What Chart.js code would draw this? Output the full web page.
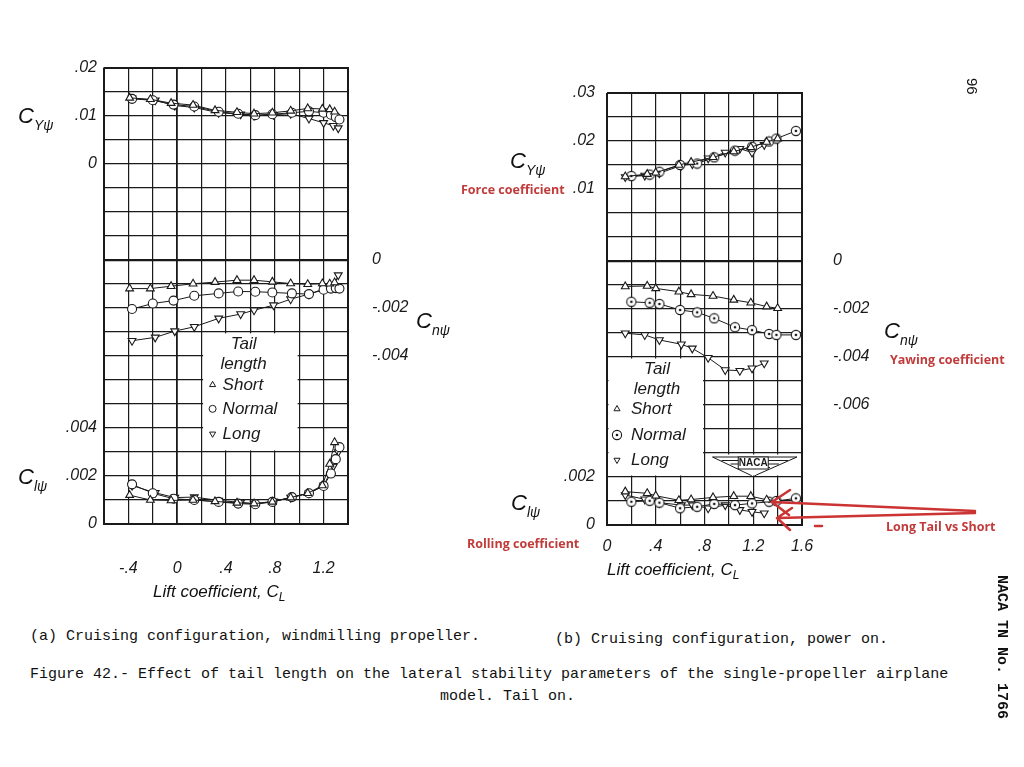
<!DOCTYPE html>
<html>
<head>
<meta charset="utf-8">
<script src="https://cdn.jsdelivr.net/npm/chart.js@4.4.1/dist/chart.umd.min.js"></script>
<style>
  html, body { margin: 0; padding: 0; background: #fff; }
  #page { position: relative; width: 1024px; height: 767px; overflow: hidden; color: #111; font-family: "Liberation Sans", sans-serif; }
  .box { position: absolute; }
  .lab { position: absolute; font-style: italic; font-size: 22px; line-height: 1; white-space: nowrap; }
  .lab sub { font-size: 14px; vertical-align: -7px; }
  .xt { position: absolute; font-style: italic; font-size: 17px; line-height: 1; white-space: nowrap; }
  .xt sub { font-size: 12px; vertical-align: -4px; }
  .red { position: absolute; color: #c23b3b; font-weight: bold; font-size: 12.5px; font-family: "Open Sans", sans-serif; white-space: nowrap; line-height: 1; }
  .cap { position: absolute; font-family: "Liberation Mono", monospace; font-size: 15px; line-height: 1; white-space: nowrap; }
  .rot { position: absolute; transform-origin: 0 0; transform: rotate(90deg); font-family: "Liberation Mono", monospace; font-weight: bold; font-size: 15px; line-height: 1; white-space: nowrap; }
  svg { position: absolute; left: 0; top: 0; pointer-events: none; }
</style>
</head>
<body>
<div id="page">
  <div class="box" style="left:0;top:34px;width:470px;height:566px"><canvas id="chartA" width="470" height="566"></canvas></div>
  <div class="box" style="left:470px;top:40px;width:554px;height:560px"><canvas id="chartB" width="554" height="560"></canvas></div>

  <div class="lab" style="left:18px;top:105px">C<sub>Yψ</sub></div>
  <div class="lab" style="left:416px;top:310px">C<sub>nψ</sub></div>
  <div class="lab" style="left:18px;top:466px">C<sub>lψ</sub></div>
  <div class="xt" style="left:153px;top:583px">Lift coefficient, C<sub>L</sub></div>

  <div class="lab" style="left:510px;top:150px">C<sub>Yψ</sub></div>
  <div class="lab" style="left:884px;top:320px">C<sub>nψ</sub></div>
  <div class="lab" style="left:511px;top:492px">C<sub>lψ</sub></div>
  <div class="xt" style="left:607px;top:561px">Lift coefficient, C<sub>L</sub></div>

  <div class="red" style="left:461px;top:184px">Force coefficient</div>
  <div class="red" style="left:890px;top:354px">Yawing coefficient</div>
  <div class="red" style="left:467px;top:538px">Rolling coefficient</div>
  <div class="red" style="left:886px;top:521px">Long Tail vs Short</div>

  <div class="cap" style="left:30px;top:629px">(a) Cruising configuration, windmilling propeller.</div>
  <div class="cap" style="left:555px;top:632px">(b) Cruising configuration, power on.</div>
  <div class="cap" style="left:30px;top:667px">Figure 42.- Effect of tail length on the lateral stability parameters of the single-propeller airplane</div>
  <div class="cap" style="left:440px;top:689px">model.  Tail on.</div>

  <div class="rot" style="left:980px;top:78px;font-weight:normal;font-family:'Liberation Sans'">96</div>
  <div class="rot" style="left:1009px;top:575px">NACA TN No. 1766</div>

  <svg width="1024" height="767">
    <g stroke="#cc3333" stroke-width="2.5" fill="none" stroke-linecap="round" stroke-linejoin="round">
      <path d="M975 511 L772 502 M790 490 L772 502 L789 515"/>
      <path d="M975 513 L778 518 M792 508 L777 518 L790 530"/>
      <path d="M815 526 L822 526"/>
    </g>
  </svg>
</div>

<script>
// tick labels
const aXLabels = [-0.4, 0, 0.4, 0.8, 1.2];
const bXLabels = [0, 0.4, 0.8, 1.2, 1.6];
const aCyTicks = [0.02, 0.01, 0];
const aCnTicks = [0, -0.002, -0.004];
const aClTicks = [0.004, 0.002, 0];
const bCyTicks = [0.03, 0.02, 0.01];
const bCnTicks = [0, -0.002, -0.004, -0.006];
const bClTicks = [0.002, 0];
const tailNames = ["Short", "Normal", "Long"];

// (a) windmilling propeller
const aShortCL = [-0.39, -0.22, -0.05, 0.13, 0.31, 0.49, 0.63, 0.78, 0.93, 1.07, 1.19, 1.25, 1.29];
const aShortCy = [0.0137, 0.0134, 0.0126, 0.0122, 0.0111, 0.0107, 0.0104, 0.0106, 0.011, 0.0115, 0.0114, 0.0113, 0.0108];
const aShortCn = [-0.0012, -0.0012, -0.0011, -0.001, -0.00093, -0.00085, -0.00085, -0.00092, -0.00099, -0.00102, -0.00099, -0.001, -0.00095];
const aShortCl = [0.0012, 0.001, 0.00098, 0.001, 0.00094, 0.00088, 0.00085, 0.00092, 0.0011, 0.00128, 0.0016, 0.0025, 0.0034];

const aNormalCL = [-0.37, -0.2, -0.03, 0.14, 0.34, 0.5, 0.64, 0.78, 0.94, 1.08, 1.2, 1.26, 1.3, 1.33];
const aNormalCy = [0.0135, 0.0132, 0.0123, 0.0119, 0.0108, 0.0104, 0.0101, 0.0103, 0.0106, 0.0109, 0.0106, 0.0102, 0.0097, 0.0092];
const aNormalCn = [-0.00205, -0.00182, -0.0017, -0.0015, -0.0014, -0.00132, -0.00133, -0.00136, -0.0014, -0.00143, -0.00125, -0.0012, -0.00118, -0.0012];
const aNormalCl = [0.00165, 0.00128, 0.00105, 0.001, 0.00092, 0.00085, 0.00082, 0.00092, 0.00112, 0.00128, 0.00158, 0.0021, 0.0027, 0.0032];

const aLongCL = [-0.37, -0.18, -0.02, 0.14, 0.34, 0.52, 0.63, 0.79, 0.93, 1.08, 1.2, 1.28, 1.32];
const aLongCy = [0.0136, 0.0132, 0.0121, 0.0117, 0.0106, 0.0103, 0.01, 0.0102, 0.0104, 0.0094, 0.0085, 0.0079, 0.0074];
const aLongCn = [-0.00337, -0.00323, -0.00297, -0.00279, -0.00244, -0.00226, -0.0021, -0.00189, -0.00164, -0.00143, -0.00122, -0.00115, -0.00064];
const aLongCl = [0.0016, 0.0013, 0.0011, 0.00112, 0.00098, 0.0009, 0.00085, 0.00094, 0.0011, 0.00128, 0.0016, 0.0024, 0.003];

// (b) power on
const bShortCL = [0.15, 0.33, 0.4, 0.59, 0.69, 0.87, 1.04, 1.18, 1.31, 1.4];
const bShortCy = [0.0126, 0.0131, 0.0134, 0.015, 0.0156, 0.0166, 0.0178, 0.0187, 0.0198, 0.0205];
const bShortCn = [-0.00106, -0.00104, -0.00114, -0.00128, -0.00139, -0.00146, -0.00162, -0.00174, -0.0019, -0.00197];
const bShortCl = [0.00139, 0.00132, 0.00122, 0.00103, 0.00106, 0.00115, 0.0012, 0.0012, 0.00105, 0.00102];

const bNormalCL = [0.2, 0.35, 0.43, 0.6, 0.74, 0.88, 1.05, 1.19, 1.33, 1.39, 1.55];
const bNormalCy = [0.0127, 0.013, 0.0136, 0.015, 0.0153, 0.0166, 0.018, 0.0188, 0.0199, 0.0205, 0.0221];
const bNormalCn = [-0.0017, -0.00174, -0.00179, -0.00204, -0.00214, -0.00239, -0.00276, -0.00288, -0.00304, -0.00308, -0.00308];
const bNormalCl = [0.00097, 0.00101, 0.00093, 0.0007, 0.00076, 0.00088, 0.00083, 0.0009, 0.00097, 0.001, 0.00111];

const bLongCL = [0.15, 0.31, 0.43, 0.61, 0.7, 0.83, 0.97, 1.09, 1.19, 1.29];
const bLongCy = [0.0125, 0.0128, 0.0133, 0.0149, 0.0152, 0.0164, 0.0176, 0.0184, 0.0176, 0.0192];
const bLongCn = [-0.00301, -0.00308, -0.00329, -0.00347, -0.00364, -0.00403, -0.00454, -0.00457, -0.00447, -0.00426];
const bLongCl = [0.00125, 0.00107, 0.00093, 0.00083, 0.00083, 0.0007, 0.00083, 0.00063, 0.00055, 0.00049];

const INK = "#1a1a1a";
const tickFont = { family: "Liberation Sans", style: "italic", size: 16 };

function fmt(v) {
    if (Math.abs(v) < 1e-9) return "0";
    const s = String(+Math.abs(v).toFixed(4)).replace(/^0/, "");
    return (v < 0 ? "-" : "") + s;
}

function pick(v, list) {
    return list.some((t) => Math.abs(t - v) < 1e-7) ? fmt(v) : "";
}

function gridTicks(min, max, step) {
    const n = Math.round((max - min) / step);
    return Array.from({ length: n + 1 }, (_, i) => ({ value: +(min + i * step).toFixed(6) }));
}

function dotCircle() {
    const c = document.createElement("canvas");
    c.width = c.height = 12;
    const g = c.getContext("2d");
    g.fillStyle = "#fff";
    g.strokeStyle = INK;
    g.lineWidth = 1.1;
    g.beginPath();
    g.arc(6, 6, 4.6, 0, Math.PI * 2);
    g.fill();
    g.stroke();
    g.fillStyle = INK;
    g.beginPath();
    g.arc(6, 6, 1.3, 0, Math.PI * 2);
    g.fill();
    return c;
}

const up = { shape: "triangle", rot: 0 };
const ring = { shape: "circle", rot: 0 };
const down = { shape: "triangle", rot: 180 };
const dotRing = { shape: dotCircle(), rot: 0 };

function series(cl, vals, axis, st) {
    return {
        data: cl.map((c, i) => ({ x: c, y: vals[i] })),
        yAxisID: axis,
        showLine: true,
        borderColor: INK,
        borderWidth: 1,
        pointStyle: st.shape,
        pointRotation: st.rot,
        pointRadius: 4.5,
        pointBackgroundColor: "#fff",
        pointBorderColor: INK,
        pointBorderWidth: 1.1,
        clip: false,
    };
}

// white legend box + NACA badge, drawn over the grid but under the data
const paperPlugin = {
    id: "paper",
    beforeDatasetsDraw(chart, args, o) {
        const { ctx } = chart;
        const x = chart.scales.x;
        const cn = chart.scales.cn;
        const rect = (b) => ({
            l: x.getPixelForValue(b[0]),
            r: x.getPixelForValue(b[1]),
            t: cn.getPixelForValue(b[2]),
            b: cn.getPixelForValue(b[3]),
        });
        ctx.save();
        const L = rect(o.box);
        ctx.fillStyle = "#fff";
        ctx.fillRect(L.l + 1.5, L.t + 1.5, L.r - L.l - 3, L.b - L.t - 3);
        ctx.fillStyle = INK;
        ctx.font = 'italic 17px "Liberation Sans"';
        ctx.textAlign = "center";
        ctx.textBaseline = "middle";
        ctx.fillText("Tail", L.l + o.titleX, L.t + 12);
        ctx.fillText("length", L.l + o.titleX, L.t + 32);
        ctx.textAlign = "left";
        o.styles.forEach((st, i) => {
            const y = L.t + o.rowY[i];
            ctx.strokeStyle = INK;
            ctx.fillStyle = "#fff";
            ctx.lineWidth = 1;
            Chart.helpers.drawPoint(ctx, { pointStyle: st.shape, rotation: st.rot, radius: 3.5, borderWidth: 1 }, L.l + o.markX, y);
            ctx.fillStyle = INK;
            ctx.fillText(tailNames[i], L.l + o.textX, y);
        });
        if (o.naca) {
            const N = rect(o.naca);
            ctx.fillStyle = "#fff";
            ctx.fillRect(N.l + 1.5, N.t + 1.5, N.r - N.l - 3, N.b - N.t - 3);
            const cx = (N.l + N.r) / 2;
            ctx.strokeStyle = INK;
            ctx.lineWidth = 1;
            ctx.beginPath();
            ctx.moveTo(N.l + 8, N.t + 4);
            ctx.lineTo(N.r - 5, N.t + 4);
            ctx.lineTo(cx + 3, N.b - 2);
            ctx.lineTo(cx, N.b);
            ctx.lineTo(cx - 3, N.b - 2);
            ctx.closePath();
            ctx.stroke();
            ctx.beginPath();
            for (let k = 1; k <= 3; k++) {
                ctx.moveTo(N.l + 8 + k * 9, N.t + 4 + k * 3.5);
                ctx.lineTo(cx - 14, N.t + 4 + k * 3.5);
                ctx.moveTo(N.r - 5 - k * 9, N.t + 4 + k * 3.5);
                ctx.lineTo(cx + 14, N.t + 4 + k * 3.5);
            }
            ctx.stroke();
            ctx.fillStyle = "#fff";
            ctx.fillRect(cx - 15, N.t + 4, 30, 12);
            ctx.strokeRect(cx - 15, N.t + 4, 30, 12);
            ctx.fillStyle = INK;
            ctx.font = 'bold 10px "Liberation Sans"';
            ctx.textAlign = "center";
            ctx.fillText("NACA", cx, N.t + 10.5);
        }
        ctx.restore();
    },
};

function buildChart(id, c) {
    const edge = (v, min, max) => Math.abs(v - min) < 1e-9 || Math.abs(v - max) < 1e-9;
    return new Chart(document.getElementById(id), {
        type: "scatter",
        data: { datasets: c.datasets },
        options: {
            responsive: false,
            animation: false,
            layout: { padding: { top: c.padTop, left: 0, right: 0, bottom: 0 } },
            plugins: {
                legend: { display: false },
                tooltip: { enabled: false },
                paper: c.paper,
            },
            scales: {
                x: {
                    type: "linear",
                    position: "bottom",
                    min: c.xMin,
                    max: c.xMax,
                    afterBuildTicks: (s) => { s.ticks = gridTicks(c.xMin, c.xMax, 0.2); },
                    afterFit: (s) => { s.height = c.xH; },
                    ticks: { autoSkip: false, maxRotation: 0, padding: c.xPad, font: tickFont, color: INK, callback: (v) => pick(v, c.xLabels) },
                    grid: {
                        color: INK,
                        drawTicks: false,
                        lineWidth: (g) => (g.tick && edge(g.tick.value, c.xMin, c.xMax) ? 2 : g.tick && Math.abs(g.tick.value) < 1e-9 ? 1.8 : 1.2),
                    },
                    border: { color: INK, width: 2 },
                },
                // rolling coefficient: lower block of the left stack
                cl: {
                    type: "linear",
                    position: "left",
                    stack: "left",
                    stackWeight: c.clRows,
                    min: 0,
                    max: c.clMax,
                    afterBuildTicks: (s) => { s.ticks = c.clTicks.map((v) => ({ value: v })); },
                    afterFit: (s) => { s.width = c.leftW; },
                    ticks: { autoSkip: false, padding: c.yPad, font: tickFont, color: INK, callback: (v) => fmt(v) },
                    grid: { display: false, drawTicks: false },
                    border: { display: false },
                },
                // side force coefficient: upper block of the left stack
                cy: {
                    type: "linear",
                    position: "left",
                    stack: "left",
                    stackWeight: c.cyRows,
                    min: c.cyMin,
                    max: c.cyMax,
                    afterBuildTicks: (s) => { s.ticks = c.cyTicks.map((v) => ({ value: v })); },
                    afterFit: (s) => { s.width = c.leftW; },
                    ticks: { autoSkip: false, padding: c.yPad, font: tickFont, color: INK, callback: (v) => fmt(v) },
                    grid: { display: false, drawTicks: false },
                    border: { display: false },
                },
                cn: {
                    type: "linear",
                    position: "right",
                    min: c.cnMin,
                    max: c.cnMax,
                    afterBuildTicks: (s) => { s.ticks = gridTicks(c.cnMin, c.cnMax, 0.001); },
                    afterFit: (s) => { s.width = c.rightW; },
                    ticks: { autoSkip: false, padding: c.cnPad, font: tickFont, color: INK, callback: (v) => pick(v, c.cnTicks) },
                    grid: {
                        color: INK,
                        drawTicks: false,
                        lineWidth: (g) => (g.tick && edge(g.tick.value, c.cnMin, c.cnMax) ? 2 : g.tick && Math.abs(g.tick.value) < 1e-9 ? 2.2 : 1.2),
                    },
                    border: { color: INK, width: 2 },
                },
            },
        },
        plugins: [paperPlugin],
    });
}

buildChart("chartA", {
    datasets: [
        series(aShortCL, aShortCy, "cy", up),
        series(aNormalCL, aNormalCy, "cy", ring),
        series(aLongCL, aLongCy, "cy", down),
        series(aShortCL, aShortCn, "cn", up),
        series(aNormalCL, aNormalCn, "cn", ring),
        series(aLongCL, aLongCn, "cn", down),
        series(aShortCL, aShortCl, "cl", up),
        series(aNormalCL, aNormalCl, "cl", ring),
        series(aLongCL, aLongCl, "cl", down),
    ],
    padTop: 33, xH: 76, xPad: 35, leftW: 104, rightW: 122, yPad: 7, cnPad: 24,
    xMin: -0.6, xMax: 1.4, xLabels: aXLabels,
    cyRows: 10, cyMin: -0.03, cyMax: 0.02, cyTicks: aCyTicks,
    clRows: 9, clMax: 0.009, clTicks: aClTicks,
    cnMin: -0.011, cnMax: 0.008, cnTicks: aCnTicks,
    paper: { box: [0.2, 1.0, -0.003, -0.008], titleX: 42, markX: 11, textX: 21, rowY: [53, 77, 102], styles: [up, ring, down] },
});

buildChart("chartB", {
    datasets: [
        series(bShortCL, bShortCy, "cy", up),
        series(bNormalCL, bNormalCy, "cy", dotRing),
        series(bLongCL, bLongCy, "cy", down),
        series(bShortCL, bShortCn, "cn", up),
        series(bNormalCL, bNormalCn, "cn", dotRing),
        series(bLongCL, bLongCn, "cn", down),
        series(bShortCL, bShortCl, "cl", up),
        series(bNormalCL, bNormalCl, "cl", dotRing),
        series(bLongCL, bLongCl, "cl", down),
    ],
    padTop: 53, xH: 75, xPad: 12, leftW: 137, rightW: 222, yPad: 12, cnPad: 31,
    xMin: 0, xMax: 1.6, xLabels: bXLabels,
    cyRows: 9, cyMin: -0.015, cyMax: 0.03, cyTicks: bCyTicks,
    clRows: 9, clMax: 0.009, clTicks: bClTicks,
    cnMin: -0.011, cnMax: 0.007, cnTicks: bCnTicks,
    paper: { box: [0, 0.8, -0.004, -0.009], titleX: 50, markX: 10, textX: 24, rowY: [52, 78, 103], styles: [up, dotRing, down], naca: [0.8, 1.6, -0.008, -0.009] },
});
</script>
</body>
</html>
